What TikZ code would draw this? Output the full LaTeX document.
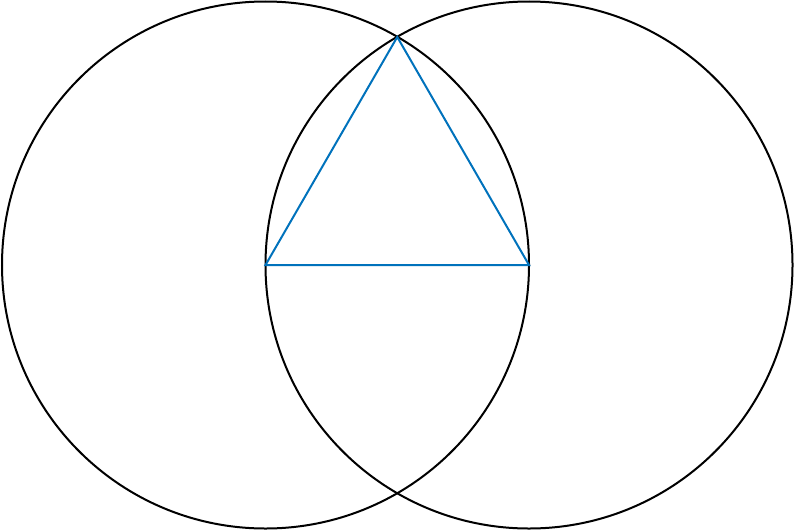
\documentclass[tikz,border=0pt]{standalone}
\definecolor{triblue}{RGB}{0,114,188}
\begin{document}
\begin{tikzpicture}[x=1pt,y=-1pt,
  circ/.style={draw=black,line width=2pt},
  tri/.style={draw=triblue,line width=2pt,line join=miter}]
\useasboundingbox (0,0) rectangle (794,530);
\coordinate (A) at (265.5,265);
\coordinate (B) at (529,265);
\coordinate (C) at (397.25,37);
\draw[circ] (A) circle (263.5);
\draw[circ] (B) circle (263.5);
\draw[tri] (A) -- (B) -- (C) -- cycle;
\end{tikzpicture}
\end{document}
